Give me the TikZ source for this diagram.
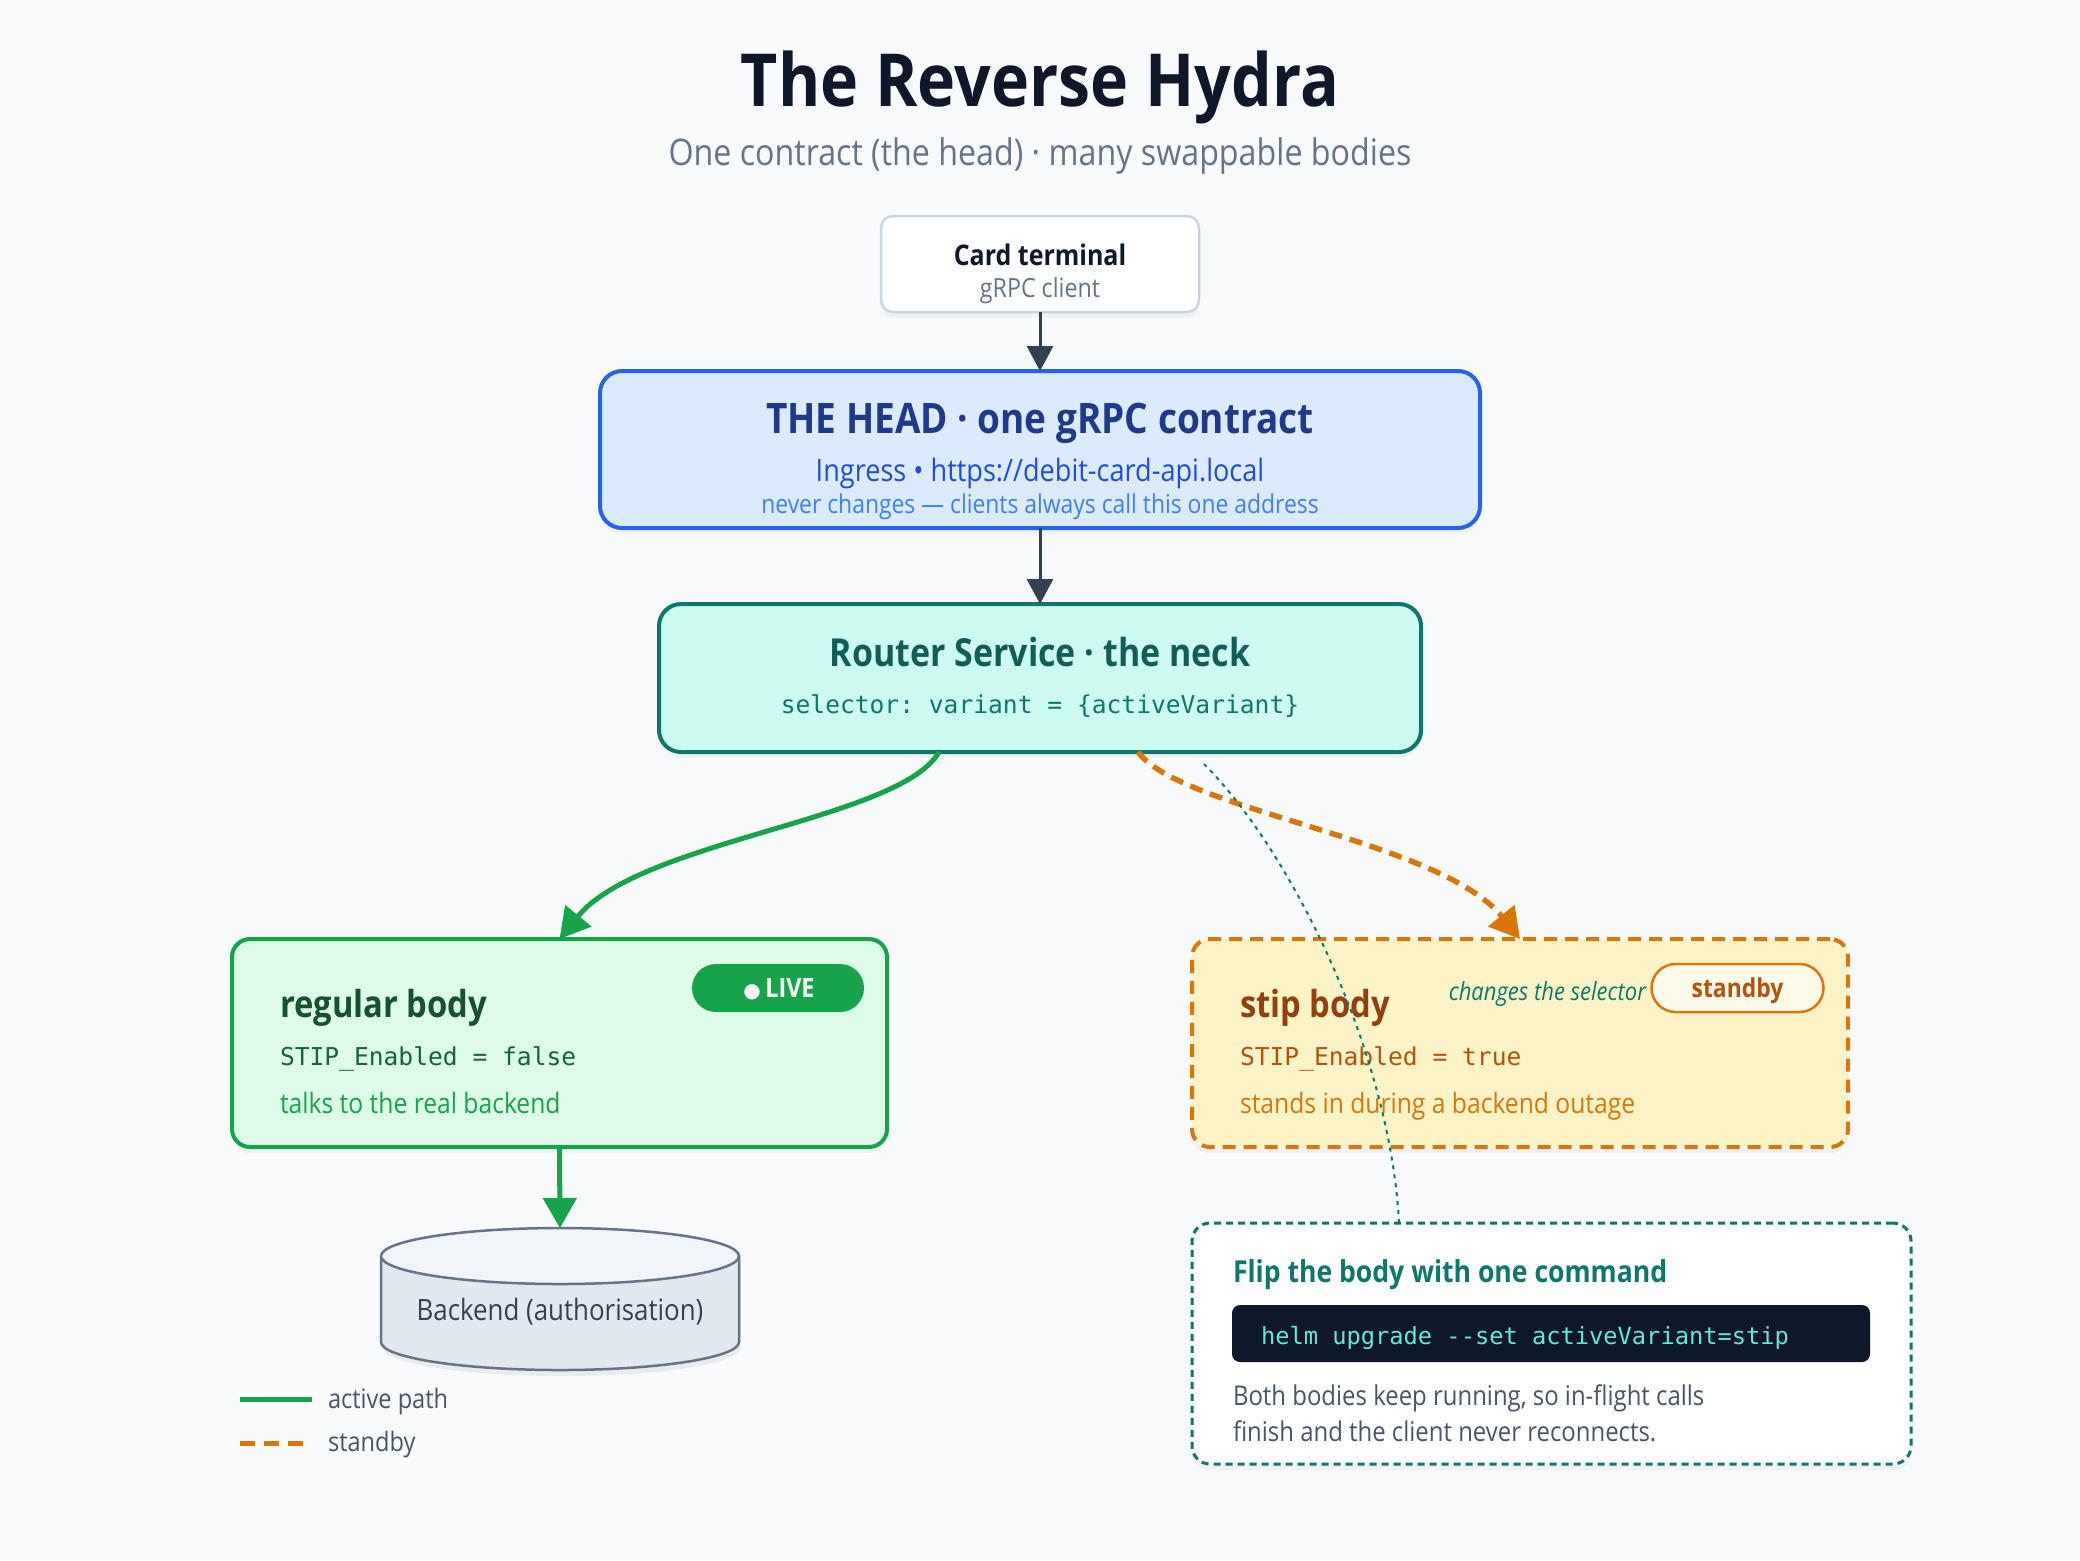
\documentclass[tikz,border=0pt]{standalone}
\usepackage{fontspec}
\setmainfont{Open Sans}[FakeStretch=0.88]
\setmonofont{DejaVu Sans Mono}
\newfontfamily\dejavu{DejaVu Sans}
\usetikzlibrary{arrows.meta,shadows}
\definecolor{bg}{HTML}{F8FAFC}
\definecolor{ink}{HTML}{0F172A}
\definecolor{subink}{HTML}{64748B}
\definecolor{cardborder}{HTML}{CBD5E1}
\definecolor{darkarrow}{HTML}{334155}
\definecolor{headfill}{HTML}{DBEAFE}
\definecolor{headline}{HTML}{2563EB}
\definecolor{headtitle}{HTML}{1E3A8A}
\definecolor{headtwo}{HTML}{1D4ED8}
\definecolor{headthree}{HTML}{3B82F6}
\definecolor{routerfill}{HTML}{CCFBF1}
\definecolor{teal}{HTML}{0F766E}
\definecolor{tealdark}{HTML}{115E59}
\definecolor{greenline}{HTML}{16A34A}
\definecolor{greenfill}{HTML}{DCFCE7}
\definecolor{greentitle}{HTML}{14532D}
\definecolor{greenmono}{HTML}{166534}
\definecolor{orangeline}{HTML}{D97706}
\definecolor{orangefill}{HTML}{FEF3C7}
\definecolor{orangetitle}{HTML}{92400E}
\definecolor{orangemono}{HTML}{B45309}
\definecolor{pillfill}{HTML}{FFFBEB}
\definecolor{codebg}{HTML}{0F172A}
\definecolor{codetext}{HTML}{5EEAD4}
\definecolor{bodytext}{HTML}{475569}
\definecolor{cyltop}{HTML}{F1F5F9}
\definecolor{cylbody}{HTML}{E2E8F0}
\definecolor{cylline}{HTML}{64748B}
\begin{document}
\begin{tikzpicture}[x=0.5pt,y=-0.5pt,
  box/.style={rounded corners, inner sep=0pt, outer sep=0pt,
    drop shadow={opacity=0.07, shadow xshift=0pt, shadow yshift=-3pt}},
  txt/.style={inner sep=0pt, outer sep=0pt},
  darkarr/.style={draw=darkarrow, line width=1.5pt, -{Triangle[length=12.5pt,width=13pt]}},
  greenarr/.style={draw=greenline, line width=2.5pt, -{Triangle[length=15pt,width=16.5pt]}},
  orangearr/.style={draw=orangeline, line width=2.7pt, dash pattern=on 6.5pt off 4pt,
    -{Triangle[length=15pt,width=16.5pt]}},
  dotlink/.style={draw=teal, line width=1pt, dash pattern=on 2pt off 2.5pt},
  pill/.style={rounded corners=12pt, minimum width=86pt, minimum height=24pt, inner sep=0pt},
  fbig/.style={font=\fontsize{18.6}{22}\selectfont\bfseries},
  fmono/.style={font=\fontsize{12.3}{15}\selectfont\ttfamily},
  fnorm/.style={font=\fontsize{14}{17}\selectfont},
]
\useasboundingbox (0,0) rectangle (2080,1560);
\fill[bg] (0,0) rectangle (2080,1560);

% title
\node[txt, anchor=base, font=\fontsize{36.6}{42}\selectfont\bfseries, text=ink] (title) at (1040,106) {The Reverse Hydra};
\node[txt, anchor=base, font=\fontsize{18.3}{22}\selectfont, text=subink] (subtitle) at (1040,165) {One contract (the head) · many swappable bodies};

% card terminal
\node[box, fill=white, draw=cardborder, line width=1.25pt, rounded corners=6pt, minimum width=159pt, minimum height=48pt] (card) at (1040,264) {};
\node[txt, anchor=base, font=\fontsize{14.2}{17}\selectfont\bfseries, text=ink] (cardt) at (1040,265) {Card terminal};
\node[txt, anchor=base, font=\fontsize{13.2}{15}\selectfont, text=subink] (cards) at (1040,297) {gRPC client};

% head
\node[box, fill=headfill, draw=headline, line width=2pt, rounded corners=11pt, minimum width=440pt, minimum height=78.5pt] (head) at (1040,449.5) {};
\node[txt, anchor=base, font=\fontsize{21}{25}\selectfont\bfseries, text=headtitle] (headt) at (1040,433) {THE HEAD · one gRPC contract};
\node[txt, anchor=base, font=\fontsize{15.4}{18}\selectfont, text=headtwo] (heads) at (1040,481) {Ingress • https://debit-card-api.local};
\node[txt, anchor=base, font=\fontsize{13}{15}\selectfont, text=headthree] (headn) at (1040,513) {never changes — clients always call this one address};

% router
\node[box, fill=routerfill, draw=teal, line width=2pt, rounded corners=11pt, minimum width=381pt, minimum height=74pt] (router) at (1040,678) {};
\node[txt, anchor=base, font=\fontsize{19.3}{23}\selectfont\bfseries, text=tealdark] (routert) at (1040,666) {Router Service · the neck};
\node[txt, anchor=base, fmono, text=teal] (routers) at (1040,713) {selector: variant = \{activeVariant\}};

% regular body
\node[box, fill=greenfill, draw=greenline, line width=2pt, rounded corners=9pt, minimum width=327.5pt, minimum height=104pt] (regular) at (559.5,1043) {};
\node[txt, anchor=base west, fbig, text=greentitle] (regt) at (280,1017) {regular body};
\node[txt, anchor=base west, fmono, text=greenmono] (regm) at (280,1065) {STIP\_Enabled = false};
\node[txt, anchor=base west, fnorm, text=greenline] (regn) at (280,1113) {talks to the real backend};
\node[pill, fill=greenline] (live) at (778,988) {};
\node[txt, anchor=base, font=\fontsize{13.3}{15}\selectfont\bfseries, text=white] (livet) at (779,997) {{\dejavu\fontsize{10}{12}\selectfont ●}\,LIVE};

% stip body
\node[box, fill=orangefill, draw=orangeline, line width=2pt, dash pattern=on 6.5pt off 4pt, rounded corners=9pt, minimum width=328pt, minimum height=104pt] (stip) at (1520,1043) {};
\node[txt, anchor=base west, fbig, text=orangetitle] (stipt) at (1240,1017) {stip body};
\node[txt, anchor=base west, fmono, text=orangemono] (stipm) at (1240,1065) {STIP\_Enabled = true};
\node[txt, anchor=base west, fnorm, text=orangeline] (stipn) at (1240,1113) {stands in during a backend outage};
\node[pill, fill=pillfill, draw=orangeline, line width=1.25pt] (standby) at (1737.5,988) {};
\node[txt, anchor=base, font=\fontsize{13}{15}\selectfont\bfseries, text=orangemono] (standbyt) at (1737.5,997) {standby};
\node[txt, anchor=base east, font=\fontsize{12.5}{15}\selectfont\itshape, text=teal] (selnote) at (1646,1000) {changes the selector};

% flip box
\node[box, fill=white, draw=teal, line width=1.5pt, dash pattern=on 3.5pt off 2.5pt, rounded corners=9pt, minimum width=359.5pt, minimum height=120.5pt] (flip) at (1551.5,1343.5) {};
\node[txt, anchor=base west, font=\fontsize{15.1}{18}\selectfont\bfseries, text=teal] (flipt) at (1233,1282) {Flip the body with one command};
\node[fill=codebg, rounded corners=4pt, minimum width=319pt, minimum height=28.5pt, inner sep=0pt] (code) at (1551,1333.5) {};
\node[txt, anchor=base west, font=\fontsize{11.85}{15}\selectfont\ttfamily, text=codetext] (codet) at (1261,1344) {helm upgrade --set activeVariant=stip};
\node[txt, anchor=base west, font=\fontsize{13.6}{16}\selectfont, text=bodytext] (flipa) at (1233,1405) {Both bodies keep running, so in-flight calls};
\node[txt, anchor=base west, font=\fontsize{13.6}{16}\selectfont, text=bodytext] (flipb) at (1233,1441) {finish and the client never reconnects.};

% backend cylinder
\node[inner sep=0pt, outer sep=0pt, minimum width=179pt, minimum height=71pt] (backend) at (560,1299) {};
\fill[black, opacity=0.06] (383,1262) -- (383,1348) arc[start angle=180, end angle=360, x radius=89.5pt, y radius=14pt] -- (741,1262) -- cycle;
\filldraw[fill=cylbody, draw=cylline, line width=1.25pt] (381,1256) -- (381,1342) arc[start angle=180, end angle=360, x radius=89.5pt, y radius=14pt] -- (739,1256);
\filldraw[fill=cyltop, draw=cylline, line width=1.25pt] (560,1256) ellipse [x radius=89.5pt, y radius=14pt];
\node[txt, anchor=base, font=\fontsize{14.7}{17}\selectfont, text=darkarrow] (backendt) at (560,1320) {Backend (authorisation)};

% connectors
\draw[darkarr] (card.south) -- (head.north);
\draw[darkarr] (head.south) -- (router.north);
\draw[greenarr] ([xshift=-50.5pt]router.south) .. controls (900,820) and (640,840) .. (regular.north);
\draw[orangearr] ([xshift=49pt]router.south) .. controls (1180,810) and (1440,840) .. (stip.north);
\draw[greenarr] (regular.south) -- (backend.north);
\draw[dotlink] ([xshift=-76.25pt]flip.north) .. controls (1390,1050) and (1290,850) .. ([xshift=82pt,yshift=-6pt]router.south);

% legend
\coordinate (lga) at (240,1399);
\coordinate (lgb) at (312,1399);
\coordinate (lgc) at (240,1443);
\coordinate (lgd) at (312,1443);
\draw[greenline, line width=2.5pt] (lga) -- (lgb);
\draw[orangeline, line width=2.5pt, dash pattern=on 7.5pt off 4.5pt] (lgc) -- (lgd);
\node[txt, anchor=base west, font=\fontsize{13.4}{16}\selectfont, text=bodytext] (lgat) at (328,1408) {active path};
\node[txt, anchor=base west, font=\fontsize{13.4}{16}\selectfont, text=bodytext] (lgst) at (328,1451) {standby};
\end{tikzpicture}
\end{document}
